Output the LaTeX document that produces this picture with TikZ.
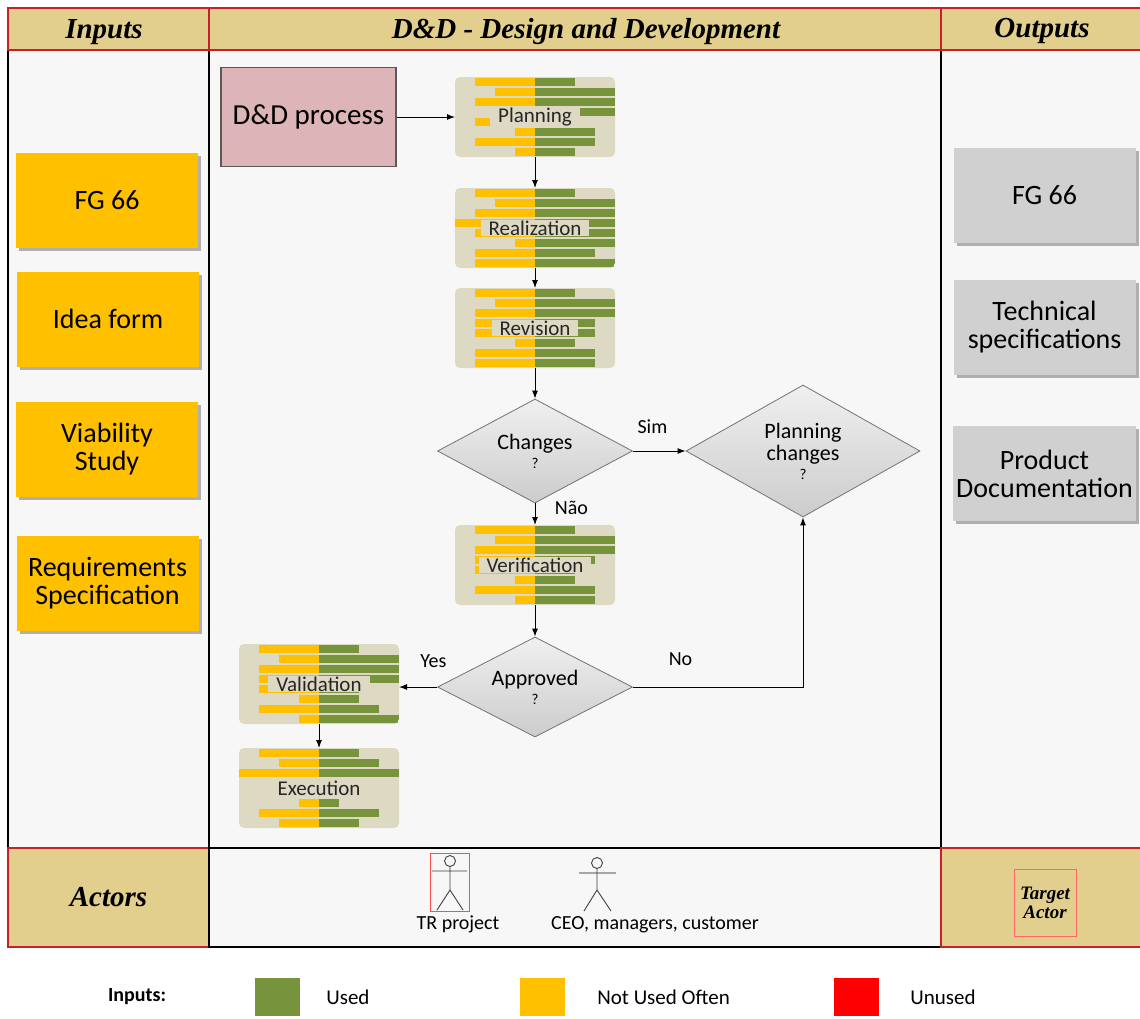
\documentclass[tikz,border=0pt]{standalone}
\usepackage{fontspec}
\setmainfont{Carlito}
\newfontfamily\tieudefont{Liberation Serif}
\usetikzlibrary{calc, shapes.geometric, positioning, shadows, arrows.meta}

\definecolor{headTan}{HTML}{E2CF8E}
\definecolor{lineRed}{HTML}{C8202A}
\definecolor{inYellow}{HTML}{FFC000}
\definecolor{inGreen}{HTML}{77933C}
\definecolor{barBeige}{HTML}{DDD9C3}
\definecolor{outGray}{HTML}{D0D0D0}
\definecolor{procPink}{HTML}{DDB4B8}
\definecolor{bgGray}{HTML}{F7F7F7}

\tikzset{
  headcell/.style={rectangle, draw=lineRed, line width=1.5, fill=headTan, minimum height=42,
    inner sep=0, outer sep=0, font=\tieudefont\bfseries\itshape\fontsize{29}{30}\selectfont},
  inbox/.style={rectangle, fill=inYellow, minimum width=182, minimum height=95, align=center,
    font=\fontsize{28}{28}\selectfont, drop shadow={shadow xshift=3pt, shadow yshift=-3pt, opacity=0.6}},
  outbox/.style={inbox, fill=outGray},
  ddbox/.style={rectangle, draw=black!65, line width=1.2, fill=procPink, minimum width=175,
    minimum height=99, font=\fontsize{29}{30}\selectfont},
  procbg/.style={rectangle, rounded corners=5, fill=barBeige, minimum width=160, minimum height=80,
    inner sep=0, outer sep=0},
  proclabel/.style={fill=barBeige, inner xsep=8pt, inner ysep=1pt, text=black!85,
    font=\fontsize{21}{22}\selectfont},
  decision/.style={diamond, aspect=2, draw=black!55, line width=0.8, top color=gray!12,
    bottom color=gray!40, inner sep=0, align=center, font=\fontsize{22}{22}\selectfont},
  lbl/.style={font=\fontsize{20}{22}\selectfont},
  legsq/.style={rectangle, minimum width=45, minimum height=38, inner sep=0},
  legtxt/.style={font=\fontsize{21}{22}\selectfont, anchor=west},
}

% hộp quy trình có nền dạng thanh
\newcommand{\hopbar}[4]{%
  \node[procbg] (#1) at #2 {};
  \begin{scope}
    \clip[rounded corners=5] (#1.north west) rectangle (#1.south east);
    \foreach \ly/\rg [count=\i] in {#4} {
      \fill[inYellow] ($(#1.north)+(-\ly,{(\i-1)*10+0.6})$) rectangle ($(#1.north)+(0,{\i*10-0.6})$);
      \fill[inGreen] ($(#1.north)+(0,{(\i-1)*10+0.6})$) rectangle ($(#1.north)+(\rg,{\i*10-0.6})$);
    }
  \end{scope}
  \node[proclabel] (#1-t) at #2 {#3};
}

\begin{document}
\begin{tikzpicture}[x=1pt, y=-1pt, >={Latex[length=8pt, width=6pt]}, line width=1pt]
    \useasboundingbox (0,0) rectangle (1140,1018);
    \fill[white] (0,0) rectangle (1140,1018);

    % Nền các cột
    \fill[bgGray] (8,50) rectangle (1141,848);
    \draw[line width=1.5] (8,50) -- (8,848) -- (1141,848);
    \draw[line width=1.5] (209,50) -- (209,947);
    \draw[line width=1.5] (941,50) -- (941,947);

    % Tiêu đề
    \node[headcell, minimum width=201] (hIn) at (108.5,29) {};
    \node[headcell, minimum width=732] (hDD) at (575,29) {};
    \node[headcell, minimum width=200] (hOut) at (1041,29) {};
    \node[headcell, draw=none, fill=none] (tIn) at (104,32) {Inputs};
    \node[headcell, draw=none, fill=none] (tDD) at (586,32) {D\&D - Design and Development};
    \node[headcell, draw=none, fill=none] (tOut) at (1042,31) {Outputs};

    % Hàng Actors
    \node[headcell, minimum width=201, minimum height=99] (actors) at (108.5,897.5) {Actors};
    \draw[line width=1.5, fill=bgGray] (209,848) rectangle (941,947);
    \node[headcell, minimum width=200, minimum height=99] (tgtcell) at (1041,897.5) {};
    \node[draw=red!60, line width=0.6, minimum width=62, minimum height=67, align=center,
        font=\tieudefont\bfseries\itshape\fontsize{19}{19}\selectfont] (tgt) at (1045,903) {Target\\Actor};

    % Đầu vào
    \node[inbox] (fg) at (107,200.5) {FG 66};
    \node[inbox] (idea) at (108,319) {Idea form};
    \node[inbox] (viab) at (107,449.5) {Viability\\Study};
    \node[inbox] (req) at (107.5,583.5) {Requirements\\Specification};

    % Đầu ra
    \node[outbox] (ofg) at (1044.5,195.5) {FG 66};
    \node[outbox] (otech) at (1044.5,327.5) {Technical\\specifications};
    \node[outbox] (odoc) at (1044.5,473.5) {Product\\Documentation};

    % Các bước
    \node[ddbox] (dd) at (308.5,117) {D\&D process};
    \hopbar{plan}{(535,117)}{Planning}{60/40,40/80,60/80,0/80,60/40,20/60,60/60,20/40}
    \hopbar{real}{(535,228)}{Realization}{60/40,40/80,60/80,80/80,60/80,20/80,60/60,60/80}
    \hopbar{rev}{(535,328)}{Revision}{60/40,40/80,60/80,60/60,60/60,20/40,60/60,60/60}
    \hopbar{verif}{(535,565)}{Verification}{60/40,40/80,60/80,60/60,60/40,20/40,60/60,20/60}
    \hopbar{valid}{(319,684)}{Validation}{60/40,40/80,60/80,60/80,60/40,20/40,60/60,20/80}
    \hopbar{exec}{(319,788)}{Execution}{60/40,40/60,80/80,0/0,0/0,20/20,60/60,40/40}

    \node[decision, minimum width=195, minimum height=104] (chg) at (535,451)
        {Changes\\[-3pt]{\fontsize{15}{15}\selectfont ?}};
    \node[decision, minimum width=234, minimum height=132] (pchg) at (803,451)
        {Planning\\changes\\[-3pt]{\fontsize{15}{15}\selectfont ?}};
    \node[decision, minimum width=195, minimum height=100] (appr) at (535,687)
        {Approved\\[-3pt]{\fontsize{15}{15}\selectfont ?}};

    % Mũi tên
    \draw[->] (dd) -- (plan);
    \draw[->] (plan) -- (real);
    \draw[->] (real) -- (rev);
    \draw[->] (rev) -- (chg);
    \draw[->] (chg) -- node[lbl, pos=0.37, above=14pt] (sim) {Sim} (pchg);
    \draw[->] (chg) -- node[lbl, pos=0.2, right=16pt] (nao) {Não} (verif);
    \draw[->] (verif) -- (appr);
    \draw[->] (appr.west) -- node[lbl, pos=0.1, above=16pt] (yes) {Yes} (appr.west -| valid.east);
    \draw[->] (appr.east) -| node[lbl, pos=0.14, above=18pt] (no) {No} (pchg.south);
    \draw[->] (valid) -- (exec);

    % Người thực hiện
    \draw[red!70, line width=0.8] (430,853) rectangle (469,911);
    \draw[black!75, line width=0.9] (450,861) circle (5.5);
    \draw[black!75, line width=0.9] (450,866.5) -- (450,890) (432,871) -- (467,871)
        (437,910) -- (450,890) -- (463,910);
    \draw[black!75, line width=0.9] (597,863) circle (5.5);
    \draw[black!35, line width=1.4] (579,873) -- (616,873);
    \draw[black!75, line width=0.9] (597,868.5) -- (597,890) (584,911) -- (597,890) -- (611,911);
    \node[lbl] (trp) at (458,924) {TR project};
    \node[lbl] (ceo) at (655,925) {CEO, managers, customer};

    % Chú thích
    \node[font=\bfseries\fontsize{20}{22}\selectfont] (leg) at (137,997) {Inputs:};
    \node[legsq, fill=inGreen] (sqU) at (277.5,997) {};
    \node[legtxt, right=22pt of sqU] (tU) {Used};
    \node[legsq, fill=inYellow] (sqN) at (542.5,997) {};
    \node[legtxt, right=28pt of sqN] (tN) {Not Used Often};
    \node[legsq, fill=red] (sqX) at (856.5,997) {};
    \node[legtxt, right=27pt of sqX] (tX) {Unused};
\end{tikzpicture}
\end{document}
